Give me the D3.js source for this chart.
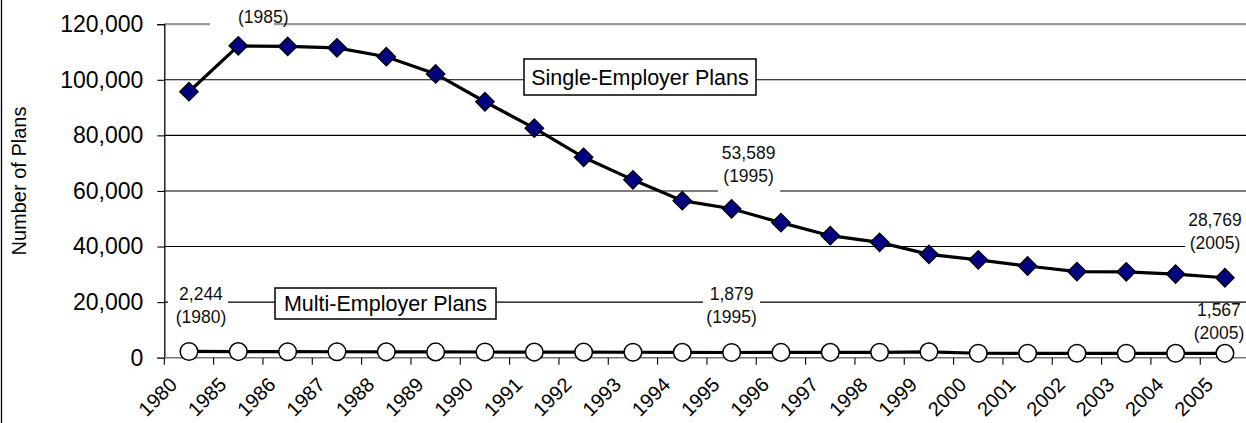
<!DOCTYPE html>
<html>
<head>
<meta charset="utf-8">
<script src="https://cdn.jsdelivr.net/npm/d3@7"></script>
<style>
  html, body { margin: 0; padding: 0; background: #fff; }
  svg { display: block; font-family: "Liberation Sans", Arial, Helvetica, sans-serif; }
</style>
</head>
<body>
<div class="chart"></div>
<script>
const categories = ['1980', '1985', '1986', '1987', '1988', '1989', '1990', '1991', '1992', '1993', '1994',
  '1995', '1996', '1997', '1998', '1999', '2000', '2001', '2002', '2003', '2004', '2005'];

const singleEmployer = [95700, 112208, 112000, 111500, 108300, 102100, 92100, 82600, 72100, 64000, 56500,
  53589, 48600, 43900, 41500, 37200, 35200, 33000, 31000, 30900, 30100, 28769];

const multiEmployer = [2244, 2188, 2160, 2140, 2110, 2080, 2050, 2020, 1990, 1960, 1920,
  1879, 1900, 1920, 1950, 2100, 1600, 1590, 1590, 1580, 1575, 1567];

const yTicks = [0, 20000, 40000, 60000, 80000, 100000, 120000];

const width = 1246;
const height = 423;
const fmt = d3.format(',');

const svg = d3.select('.chart')
  .append('svg')
  .attr('width', width)
  .attr('height', height)
  .attr('viewBox', '0 0 ' + width + ' ' + height);

// chart frame (only the left edge is inside the crop)
svg.append('line')
  .attr('x1', 1.5).attr('x2', 1.5)
  .attr('y1', 0).attr('y2', height)
  .attr('stroke', '#000').attr('stroke-width', 1.3);

const x = d3.scaleBand().domain(categories).range([164.3, 1249.6]);
const y = d3.scaleLinear().domain([0, 120000]).range([357.7, 24.2]);
const cx = (c) => x(c) + x.bandwidth() / 2;

// gridlines
svg.append('g')
  .selectAll('line')
  .data(yTicks.filter((t) => t > 0))
  .enter()
  .append('line')
  .attr('x1', 164.3).attr('x2', 1249.6)
  .attr('y1', (d) => y(d)).attr('y2', (d) => y(d))
  .attr('stroke', (d) => d === 120000 ? '#9a9a9a' : '#000')
  .attr('stroke-width', (d) => d === 120000 ? 2.2 : 1.1);

// y axis
const yAxis = svg.append('g')
  .attr('transform', 'translate(164.3,0)')
  .call(d3.axisLeft(y).tickValues(yTicks).tickSize(7).tickPadding(14).tickFormat(fmt));
yAxis.select('.domain').attr('stroke', '#000').attr('stroke-width', 1.3);
yAxis.selectAll('.tick line').attr('stroke', '#000').attr('stroke-width', 1.1);
yAxis.selectAll('.tick text')
  .attr('font-size', 23)
  .attr('font-family', '"Liberation Sans", Arial, sans-serif')
  .attr('fill', '#000');

svg.append('text')
  .attr('transform', 'translate(26,181) rotate(-90)')
  .attr('text-anchor', 'middle')
  .attr('font-size', 20)
  .text('Number of Plans');

// x axis
const xg = svg.append('g');
xg.append('line')
  .attr('x1', 157).attr('x2', 1249.6)
  .attr('y1', y(0)).attr('y2', y(0))
  .attr('stroke', '#777').attr('stroke-width', 1.6);
xg.selectAll('.xtick')
  .data(categories)
  .enter()
  .append('line')
  .attr('class', 'xtick')
  .attr('x1', (d) => x(d)).attr('x2', (d) => x(d))
  .attr('y1', y(0)).attr('y2', y(0) + 7)
  .attr('stroke', '#000').attr('stroke-width', 1.1);
xg.selectAll('.xlabel')
  .data(categories)
  .enter()
  .append('text')
  .attr('class', 'xlabel')
  .attr('text-anchor', 'end')
  .attr('font-size', 20)
  .attr('transform', (d) => 'translate(' + (x(d) + 14) + ',386) rotate(-45)')
  .text((d) => d);

// annotation helper: white patch behind text so gridlines break
function callout(lines, px, py, gap) {
  const g = svg.append('g');
  if (gap) {
    g.append('rect')
      .attr('x', gap[0]).attr('y', gap[1])
      .attr('width', gap[2]).attr('height', gap[3])
      .attr('fill', '#fff');
  }
  lines.forEach((t, i) => {
    g.append('text')
      .attr('x', px).attr('y', py + i * 23)
      .attr('text-anchor', 'middle')
      .attr('font-size', 17.5)
      .attr('fill', '#111')
      .text(t);
  });
}

function boxLabel(text, bx, by, bw, bh) {
  svg.append('rect')
    .attr('x', bx).attr('y', by).attr('width', bw).attr('height', bh)
    .attr('fill', '#fff').attr('stroke', '#000').attr('stroke-width', 1.5);
  svg.append('text')
    .attr('x', bx + bw / 2).attr('y', by + bh / 2 + 7.5)
    .attr('text-anchor', 'middle')
    .attr('font-size', 21.5)
    .text(text);
}

const iPeak = 1, i95 = 11, iLast = categories.length - 1;

callout(['(' + categories[iPeak] + ')'], cx(categories[iPeak]) + 25, 23, [210, 10, 64, 20]);
callout([fmt(singleEmployer[i95]), '(' + categories[i95] + ')'], cx(categories[i95]) + 17, 159, [718, 140, 62, 53]);
callout([fmt(singleEmployer[iLast]), '(' + categories[iLast] + ')'], cx(categories[iLast]) - 10, 226, [1185, 208, 61, 43]);
callout([fmt(multiEmployer[0]), '(' + categories[0] + ')'], cx(categories[0]) + 12, 300, [168, 282, 60, 50]);
callout([fmt(multiEmployer[i95]), '(' + categories[i95] + ')'], cx(categories[i95]), 300, [703, 282, 57, 46]);
callout([fmt(multiEmployer[iLast]), '(' + categories[iLast] + ')'], cx(categories[iLast]) - 6, 316, null);

boxLabel('Single-Employer Plans', 524, 59, 232, 36);
boxLabel('Multi-Employer Plans', 275, 288, 221, 31);

// series
const line = d3.line().x((d, i) => cx(categories[i])).y((d) => y(d));

svg.append('path')
  .datum(multiEmployer)
  .attr('d', line)
  .attr('fill', 'none').attr('stroke', '#000').attr('stroke-width', 3.2);
svg.selectAll('.multi')
  .data(multiEmployer)
  .enter()
  .append('circle')
  .attr('class', 'multi')
  .attr('cx', (d, i) => cx(categories[i]))
  .attr('cy', (d) => y(d))
  .attr('r', 8.8)
  .attr('fill', '#fff').attr('stroke', '#000').attr('stroke-width', 1.5);

svg.append('path')
  .datum(singleEmployer)
  .attr('d', line)
  .attr('fill', 'none').attr('stroke', '#000').attr('stroke-width', 3.2);
svg.selectAll('.single')
  .data(singleEmployer)
  .enter()
  .append('path')
  .attr('class', 'single')
  .attr('d', d3.symbol().type(d3.symbolSquare).size(170))
  .attr('transform', (d, i) => 'translate(' + cx(categories[i]) + ',' + y(d) + ') rotate(45)')
  .attr('fill', '#000080').attr('stroke', '#000').attr('stroke-width', 1.3);
</script>
</body>
</html>
